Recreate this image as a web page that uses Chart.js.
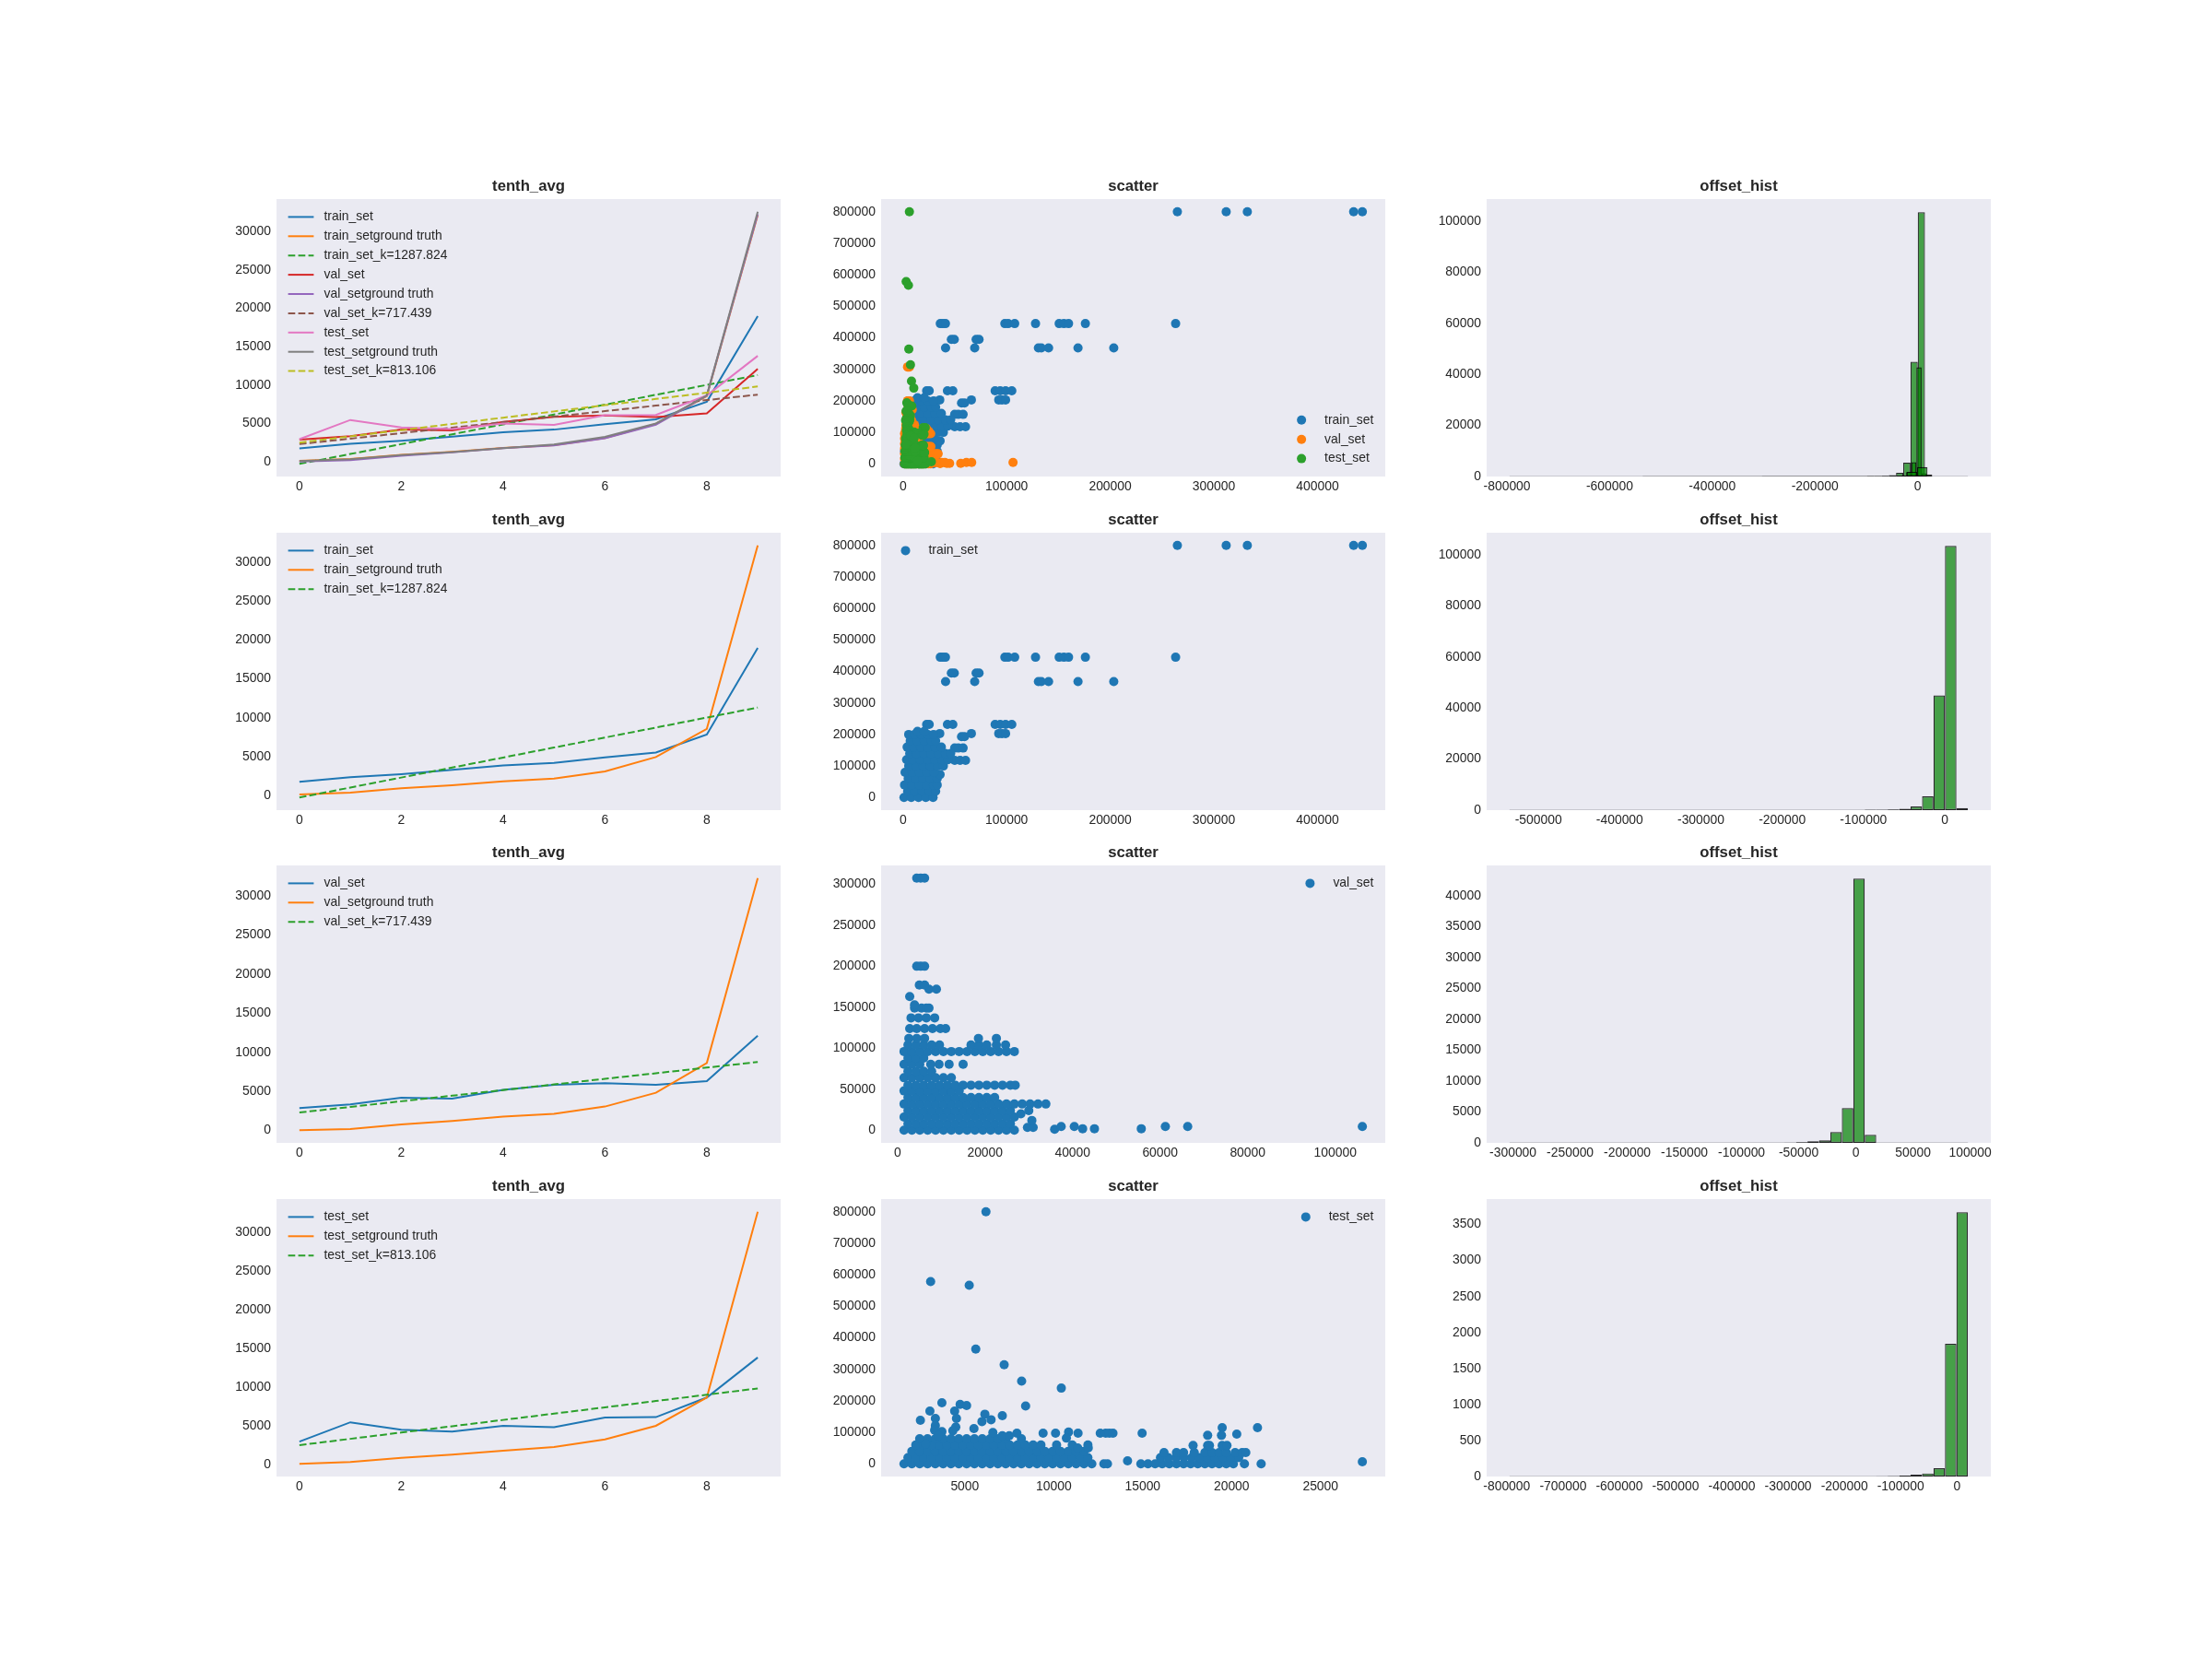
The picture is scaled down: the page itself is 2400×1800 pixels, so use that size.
<!DOCTYPE html>
<html><head><meta charset="utf-8">
<script src="https://cdn.jsdelivr.net/npm/chart.js@4/dist/chart.umd.min.js"></script>
<style>
html,body{margin:0;padding:0;background:#fff;}
#fig{position:relative;width:2400px;height:1800px;background:#fff;overflow:hidden;}
canvas{position:absolute;}
</style></head><body><div id="fig"></div>
<script>
// ---------------- DATA ----------------
// tenth_avg line panels
const tenthIdx   = [0,1,2,3,4,5,6,7,8,9];
const trainPred  = [1750, 2345, 2740, 3278, 3855, 4192, 4887, 5523, 7828, 18992];
const trainTruth = [118, 355, 908, 1302, 1816, 2171, 3079, 4934, 8565, 32207];
const trainFit   = [-280, 1008, 2296, 3583, 4871, 6159, 7447, 8735, 10023, 11310];
const valPred    = [2880, 3330, 4200, 4080, 5190, 5850, 6040, 5830, 6320, 12120];
const valTruth   = [30, 196, 784, 1216, 1765, 2118, 3059, 4824, 8627, 32275];
const valFit     = [2300, 3017, 3735, 4452, 5170, 5887, 6605, 7322, 8040, 8757];
const testPred   = [2950, 5450, 4480, 4260, 5000, 4820, 6070, 6110, 8650, 13810];
const testTruth  = [80, 317, 872, 1268, 1784, 2259, 3250, 4994, 8640, 32620];
const testFit    = [2500, 3313, 4126, 4939, 5752, 6566, 7379, 8192, 9005, 9818];
const setNames   = ['train_set', 'val_set', 'test_set'];
const fitSlopes  = ['1287.824', '717.439', '813.106'];

// scatter points, grouped as [y, [x, x, ...]]
const trainRows = [
 [800000, [264800,311900,332300,434900,443300]],
 [445000, [36000,38500,41000,98300,101500,107800,127900,150700,155300,159800,176000,263100]],
 [395000, [46700,49500,70600,73400]],
 [368000, [41100,69200,130700,133500,140500,168900,203400]],
 [232000, [22800,25300,42900,48100,88900,93800,99000,105000]],
 [203000, [35500,66000,92400,95500,99000]],
 [193000, [56500,59400]],
 [157000, [49900,53400,58000]],
 [118000, [49900,55100,60400]],
 [0,      [1000,8000,15000,22000,29000]],
 [20000,  [4500,11500,18500,25500,31500]],
 [40000,  [1500,8500,15500,22500,29500,33000]],
 [60000,  [5000,12000,19000,26000,33000]],
 [73000,  [35800]],
 [80000,  [2000,9000,16000,23000,30000]],
 [100000, [5500,12500,19500,26500,33500,39000]],
 [120000, [3500,9500,16500,23500,30500,37500,43500]],
 [140000, [6500,13000,20000,27000,34000,41000,46000]],
 [160000, [4000,10000,17000,24000,31000,37000]],
 [180000, [7000,13500,20500,27500,31500]],
 [200000, [5500,11000,17500,24000,29500]],
 [210000, [14000,20500]]
];
const valRows = [
 [0,      [1500,3300,5100,6900,8700,10500,12300,14100,15900,17700,19500,21300,23100,24900,26700]],
 [3500,   [29700,31000]],
 [8000,   [2400,4200,6000,7800,9600,11400,13200,15000,16800,18600,20400,22200,24000,25800]],
 [12000,  [30700]],
 [16000,  [1500,3300,5100,6900,8700,10500,12300,14100,15900,17700,19500,21300,23100,24900,26700]],
 [20000,  [28200]],
 [24000,  [2400,4200,6000,7800,9600,11400,13200,15000,16800,18600,20400,22200,24000,25800,30000]],
 [32000,  [1500,3300,5100,6900,8700,10500,12300,14100,15900,17700,19500,21300,23100,24900,26700,28500,30300,32100,33900]],
 [40000,  [2400,4200,6000,7800,9600,11400,13200,15000,16800,18600,20400,22200]],
 [48000,  [1500,3300,5100,6900,8700,10500,12300,14100]],
 [55000,  [2400,4200,6000,7800,9600,11400,13200,15000,16800,18600,20400,22200,24000,25800,26900]],
 [64000,  [1500,3300,5100,6900,8700,10500,12300]],
 [72000,  [2400,4200,6000,7800]],
 [80500,  [1500,3300,5100,7600,9500,11800,15000]],
 [88000,  [2400,4200,6000]],
 [96000,  [1500,3300,5100,6900,8700,10500,12300,14100,15900,17700,19500,21300,23100,24900,26700]],
 [104000, [2400,4200,6000,7800,9600,16800,18600,20400,22600,24700]],
 [112000, [2600,4400,6200,18500,22600]],
 [124000, [2800,4400,6200,8000,9800,11000]],
 [137000, [3100,4800,6600,8500]],
 [149000, [3900,5500,6600,7200]],
 [153000, [3900]],
 [163000, [2800]],
 [172000, [7200,8900]],
 [177000, [5000,6200]],
 [200000, [4400,5300,6200]],
 [307500, [4400,5300,6200]],
 [1100,   [35900]],
 [1900,   [42300,45000,55700]],
 [4500,   [37400,40400,61200,66300,106200]]
];
const testRows = [
 [0,      [1580,2020,2460,2900,3340,3780,4220,4660,5100,5540,5980,6420,6860,7300,7740,8180,8620,9060,9500,9940,10380,10820,11260,11700,12140,12820,13020,14900,15300,15700,16100,16500,16900,17300,17700,18100,18500,18900,19300,19700,20100,20722,21663]],
 [20000,  [1800,2240,2680,3120,3560,4000,4440,4880,5320,5760,6200,6640,7080,7520,7960,8400,8840,9280,9720,10160,10600,11040,11480,11920,16000,16440,16880,17320,17760,18200,18640,19080,19520,19960,20400]],
 [36000,  [16200,16900,17300,17900,18500,18900,19300,19700,20200,20600,20800]],
 [40000,  [2020,2460,2900,3340,3780,4220,4660,5100,5540,5980,6420,6860,7300,7740,8180,8620,9060,9500,9940,10380,10820,11260,11700]],
 [60000,  [2240,2680,3120,3560,4000,4440,4880,5320,5760,6200,6640,7080,7520,7960,8400,8840,9280,10160,11040,11920]],
 [80000,  [2460,2900,3340,3780,4220,4660,5100,5540,5980,6420,6860,7300,8180]],
 [800000, [6187]], [578100, [3076]], [566400, [5246]], [364000, [5614]], [314400, [7211]],
 [262800, [8193]], [240400, [10425]], [193700, [3710]], [188800, [4734]], [184900, [5100]],
 [183900, [8418]], [167400, [3035,4427]], [157700, [6126]], [152800, [7108]], [144000, [3342,4530]],
 [140100, [6474]], [138200, [2500]], [134300, [5962]], [121700, [3342]], [116800, [4490]],
 [114800, [19473,21458]], [111900, [5512]], [107000, [3300]], [105100, [4325]], [102200, [3710]],
 [101200, [10834]], [99300, [6576]], [97300, [7927,9400,10100,11366,12615,12922,13127,13331,14969]],
 [94400, [20292]], [90500, [18654,19432]], [89500, [3506,7108,7497]], [81750, [10711]],
 [63300, [2789]], [58400, [17835,18654,18756,19473,19740]], [50600, [11346,11940]],
 [9700, [14150]], [6800, [27354]]
];

// offset histograms (40 bins each)
const trainHistStart = -535500, trainHistWidth = 14100;
const trainHistCounts = [1,0,0,0,0,0,0,0,0,0, 0,0,0,0,0,0,0,0,0,0, 0,0,0,0,0,0,0,0,1,2, 3,200,220,260,520,1450,5440,45000,103600,850];
const valHistStart = -303000, valHistWidth = 10025;
const valHistCounts = [1,0,0,0,0,0,0,0,0,0, 0,0,0,0,0,0,0,0,0,0, 0,0,0,0,40,100,250,400,1740,5620, 42800,1290,3,1,0,0,0,0,0,1];
const testHistStart = -795000, testHistWidth = 20360;
const testHistCounts = [1,0,0,0,0,0,0,0,0,0, 0,0,0,0,0,0,0,0,0,0, 0,0,0,0,0,0,0,0,0,0, 0,0,2,5,13,26,43,115,1844,3670];

// tick labels
const tenthTicksX = [0,2,4,6,8];
const tenthTicksY = [0,5000,10000,15000,20000,25000,30000];
const scatTicksXTrain = [0,100000,200000,300000,400000];
const scatTicksY800 = [0,100000,200000,300000,400000,500000,600000,700000,800000];
const scatTicksXVal = [0,20000,40000,60000,80000,100000];
const scatTicksYVal = [0,50000,100000,150000,200000,250000,300000];
const scatTicksXTest = [5000,10000,15000,20000,25000];
const histTicksXAll = [-800000,-600000,-400000,-200000,0];
const histTicksYBig = [0,20000,40000,60000,80000,100000];
const histTicksXTrain = [-500000,-400000,-300000,-200000,-100000,0];
const histTicksXVal = [-300000,-250000,-200000,-150000,-100000,-50000,0,50000,100000];
const histTicksYVal = [0,5000,10000,15000,20000,25000,30000,35000,40000];
const histTicksXTest = [-800000,-700000,-600000,-500000,-400000,-300000,-200000,-100000,0];
const histTicksYTest = [0,500,1000,1500,2000,2500,3000,3500];

// ---------------- STYLE / LAYOUT ----------------
const FONT = '"Liberation Sans", Arial, Helvetica, sans-serif';
const TXT = '#262626', BG = '#EAEAF2';
const C = {blue:'#1f77b4', orange:'#ff7f0e', green:'#2ca02c', red:'#d62728', purple:'#9467bd',
           brown:'#8c564b', pink:'#e377c2', gray:'#7f7f7f', olive:'#bcbd22'};
const COLS = [300, 956, 1613], ROWS = [216, 578, 939, 1301];
const PW = 547, PH = 301, YW = 70, RP = 45, TH = 24, XH = 30;
const FS = 13.9, LW = 2, DASH = [7.7, 3.3], MR = 5.0;
const LEG = {pad: 12.6, hl: 27.8, gap: 11.1, ls: 20.9, top: 19.4};

Chart.defaults.font.family = FONT;
Chart.defaults.font.size = FS;
Chart.defaults.color = TXT;

const bgPlugin = {id: 'axesBg', beforeDraw(chart) {
  const {ctx, chartArea: a} = chart;
  ctx.save(); ctx.fillStyle = BG; ctx.fillRect(a.left, a.top, a.width, a.height); ctx.restore();
}};
const legendPlugin = {id: 'mplLegend', afterDatasetsDraw(chart, args, opts) {
  if (!opts || !opts.loc) return;
  const ctx = chart.ctx, a = chart.chartArea;
  const items = chart.data.datasets.filter(d => d.legendKind);
  ctx.save();
  ctx.font = FS + 'px ' + FONT;
  const tw = Math.max(...items.map(d => ctx.measureText(d.label).width));
  const hx = opts.loc.endsWith('left') ? a.left + LEG.pad : a.right - LEG.pad - tw - LEG.gap - LEG.hl;
  const y0 = opts.loc.startsWith('upper') ? a.top + LEG.top : a.bottom - LEG.top - (items.length - 1) * LEG.ls;
  items.forEach((d, i) => {
    const y = y0 + i * LEG.ls;
    if (d.legendKind === 'line') {
      ctx.beginPath(); ctx.setLineDash(d.borderDash || []); ctx.lineWidth = d.borderWidth;
      ctx.strokeStyle = d.borderColor; ctx.moveTo(hx, y); ctx.lineTo(hx + LEG.hl, y); ctx.stroke();
      ctx.setLineDash([]);
    } else {
      ctx.beginPath(); ctx.fillStyle = d.backgroundColor;
      ctx.arc(hx + LEG.hl / 2, y, d.pointRadius, 0, Math.PI * 2); ctx.fill();
    }
    ctx.fillStyle = TXT; ctx.textAlign = 'left'; ctx.textBaseline = 'middle';
    ctx.fillText(d.label, hx + LEG.hl + LEG.gap, y);
  });
  ctx.restore();
}};

function fmt(v) { return v < 0 ? '-' + Math.abs(v) : String(v); }
function padRange(vals) {
  const lo = Math.min(...vals), hi = Math.max(...vals), r = hi - lo;
  return [lo - 0.05 * r, hi + 0.05 * r];
}
function makeAxis(isX, lo, hi, ticks) {
  return {
    type: 'linear', position: isX ? 'bottom' : 'left', min: lo, max: hi, bounds: 'data', offset: false,
    grid: {display: false, drawTicks: false}, border: {display: false},
    ticks: {autoSkip: false, maxRotation: 0, minRotation: 0, padding: isX ? 3 : 6, color: TXT,
            font: {size: FS, family: FONT, lineHeight: '16px'}, callback: v => fmt(v)},
    afterBuildTicks: ax => { ax.ticks = ticks.map(v => ({value: v})); },
    afterFit: ax => { if (isX) ax.height = XH; else ax.width = YW; }
  };
}
function hiddenAxis(lo, hi, ticks) {
  return {type: 'linear', axis: 'x', position: 'bottom', display: false, min: lo, max: hi, bounds: 'data', offset: false,
          afterBuildTicks: ax => { ax.ticks = ticks.map(v => ({value: v})); }};
}
function withOrder(ds) { ds.forEach((d, i) => { d.order = ds.length - i; }); return ds; }
function rowsToPts(rows) { const p = []; rows.forEach(([y, xs]) => xs.forEach(x => p.push({x, y}))); return p; }

function makePanel(col, row, title, type, datasets, scales, legendLoc) {
  const c = document.createElement('canvas');
  const W = YW + PW + RP, H = TH + PH + XH;
  c.width = W; c.height = H;
  c.style.left = (COLS[col] - YW) + 'px'; c.style.top = (ROWS[row] - TH) + 'px';
  c.style.width = W + 'px'; c.style.height = H + 'px';
  document.getElementById('fig').appendChild(c);
  new Chart(c, {
    type, data: {datasets: withOrder(datasets)},
    options: {
      responsive: false, animation: false, devicePixelRatio: 1, events: [],
      layout: {padding: {left: 0, top: 0, right: RP, bottom: 0}},
      scales,
      plugins: {
        legend: {display: false}, tooltip: {enabled: false},
        title: {display: true, text: title, fullSize: false, color: TXT,
                font: {size: 16.7, weight: 'bold', family: FONT, lineHeight: '20px'}, padding: {top: 0, bottom: 4}},
        mplLegend: {loc: legendLoc || null}
      }
    },
    plugins: [bgPlugin, legendPlugin]
  });
}

// ---------------- PANELS ----------------
function lineDs(label, ys, color, dashed) {
  return {label, legendKind: 'line', data: tenthIdx.map((x, i) => ({x, y: ys[i]})),
          borderColor: color, backgroundColor: color, borderWidth: LW, borderDash: dashed ? DASH : [],
          pointRadius: 0, pointHoverRadius: 0, fill: false, tension: 0};
}
function linePanel(row, specs) {
  const ds = specs.map(s => lineDs(s[0], s[1], s[2], s[3]));
  const yr = padRange([].concat(...specs.map(s => s[1])));
  const xr = padRange(tenthIdx);
  makePanel(0, row, 'tenth_avg', 'line', ds,
    {x: makeAxis(true, xr[0], xr[1], tenthTicksX), y: makeAxis(false, yr[0], yr[1], tenthTicksY)}, 'upper left');
}
const preds = [trainPred, valPred, testPred], truths = [trainTruth, valTruth, testTruth], fits = [trainFit, valFit, testFit];
const allLineColors = [[C.blue, C.orange, C.green], [C.red, C.purple, C.brown], [C.pink, C.gray, C.olive]];
const specAll = [];
for (let k = 0; k < 3; k++) {
  specAll.push([setNames[k], preds[k], allLineColors[k][0], false]);
  specAll.push([setNames[k] + 'ground truth', truths[k], allLineColors[k][1], false]);
  specAll.push([setNames[k] + '_k=' + fitSlopes[k], fits[k], allLineColors[k][2], true]);
}
linePanel(0, specAll);
for (let k = 0; k < 3; k++) {
  linePanel(k + 1, [[setNames[k], preds[k], C.blue, false],
                    [setNames[k] + 'ground truth', truths[k], C.orange, false],
                    [setNames[k] + '_k=' + fitSlopes[k], fits[k], C.green, true]]);
}

// scatter
const ptsSets = [rowsToPts(trainRows), rowsToPts(valRows), rowsToPts(testRows)];
function scatDs(label, pts, color) {
  return {label, legendKind: 'marker', data: pts, backgroundColor: color, borderColor: color,
          pointRadius: MR, pointHoverRadius: MR, borderWidth: 0, pointBorderWidth: 0};
}
function scatterPanel(row, sets, colors, ticksX, ticksY, loc) {
  const ds = sets.map((k, i) => scatDs(setNames[k], ptsSets[k], colors[i]));
  const all = [].concat(...sets.map(k => ptsSets[k]));
  const xr = padRange(all.map(p => p.x)), yr = padRange(all.map(p => p.y));
  makePanel(1, row, 'scatter', 'scatter', ds,
    {x: makeAxis(true, xr[0], xr[1], ticksX), y: makeAxis(false, yr[0], yr[1], ticksY)}, loc);
}
scatterPanel(0, [0, 1, 2], [C.blue, C.orange, C.green], scatTicksXTrain, scatTicksY800, 'lower right');
scatterPanel(1, [0], [C.blue], scatTicksXTrain, scatTicksY800, 'upper left');
scatterPanel(2, [1], [C.blue], scatTicksXVal, scatTicksYVal, 'upper right');
scatterPanel(3, [2], [C.blue], scatTicksXTest, scatTicksY800, 'upper right');

// histograms
const hists = [
  {start: trainHistStart, width: trainHistWidth, counts: trainHistCounts},
  {start: valHistStart, width: valHistWidth, counts: valHistCounts},
  {start: testHistStart, width: testHistWidth, counts: testHistCounts}
];
function histPanel(row, sets, ticksX, ticksY) {
  const edges = [];
  sets.forEach(s => { edges.push(s.start, s.start + s.width * s.counts.length); });
  const xr = padRange(edges);
  const ymax = Math.max(...[].concat(...sets.map(s => s.counts))) * 1.05;
  const ds = [], scales = {};
  sets.forEach((s, k) => {
    const id = k === 0 ? 'x' : 'x' + (k + 1);
    scales[id] = k === 0 ? makeAxis(true, xr[0], xr[1], ticksX) : hiddenAxis(xr[0], xr[1], ticksX);
    ds.push({type: 'line', xAxisID: 'x', data: [{x: s.start, y: 0}, {x: s.start + s.width * s.counts.length, y: 0}],
             borderColor: 'rgba(40,40,40,0.35)', borderWidth: 1, pointRadius: 0, fill: false});
    ds.push({type: 'bar', xAxisID: id, data: s.counts.map((c, i) => ({x: s.start + (i + 0.5) * s.width, y: c})),
             backgroundColor: 'rgba(0,128,0,0.7)', borderColor: 'rgba(0,0,0,0.82)', borderWidth: 1.2,
             borderSkipped: false, grouped: false, barPercentage: 1, categoryPercentage: 1, inflateAmount: 0});
  });
  scales.y = makeAxis(false, 0, ymax, ticksY);
  makePanel(2, row, 'offset_hist', 'bar', ds, scales, null);
}
histPanel(0, hists, histTicksXAll, histTicksYBig);
histPanel(1, [hists[0]], histTicksXTrain, histTicksYBig);
histPanel(2, [hists[1]], histTicksXVal, histTicksYVal);
histPanel(3, [hists[2]], histTicksXTest, histTicksYTest);
</script>
</body></html>
